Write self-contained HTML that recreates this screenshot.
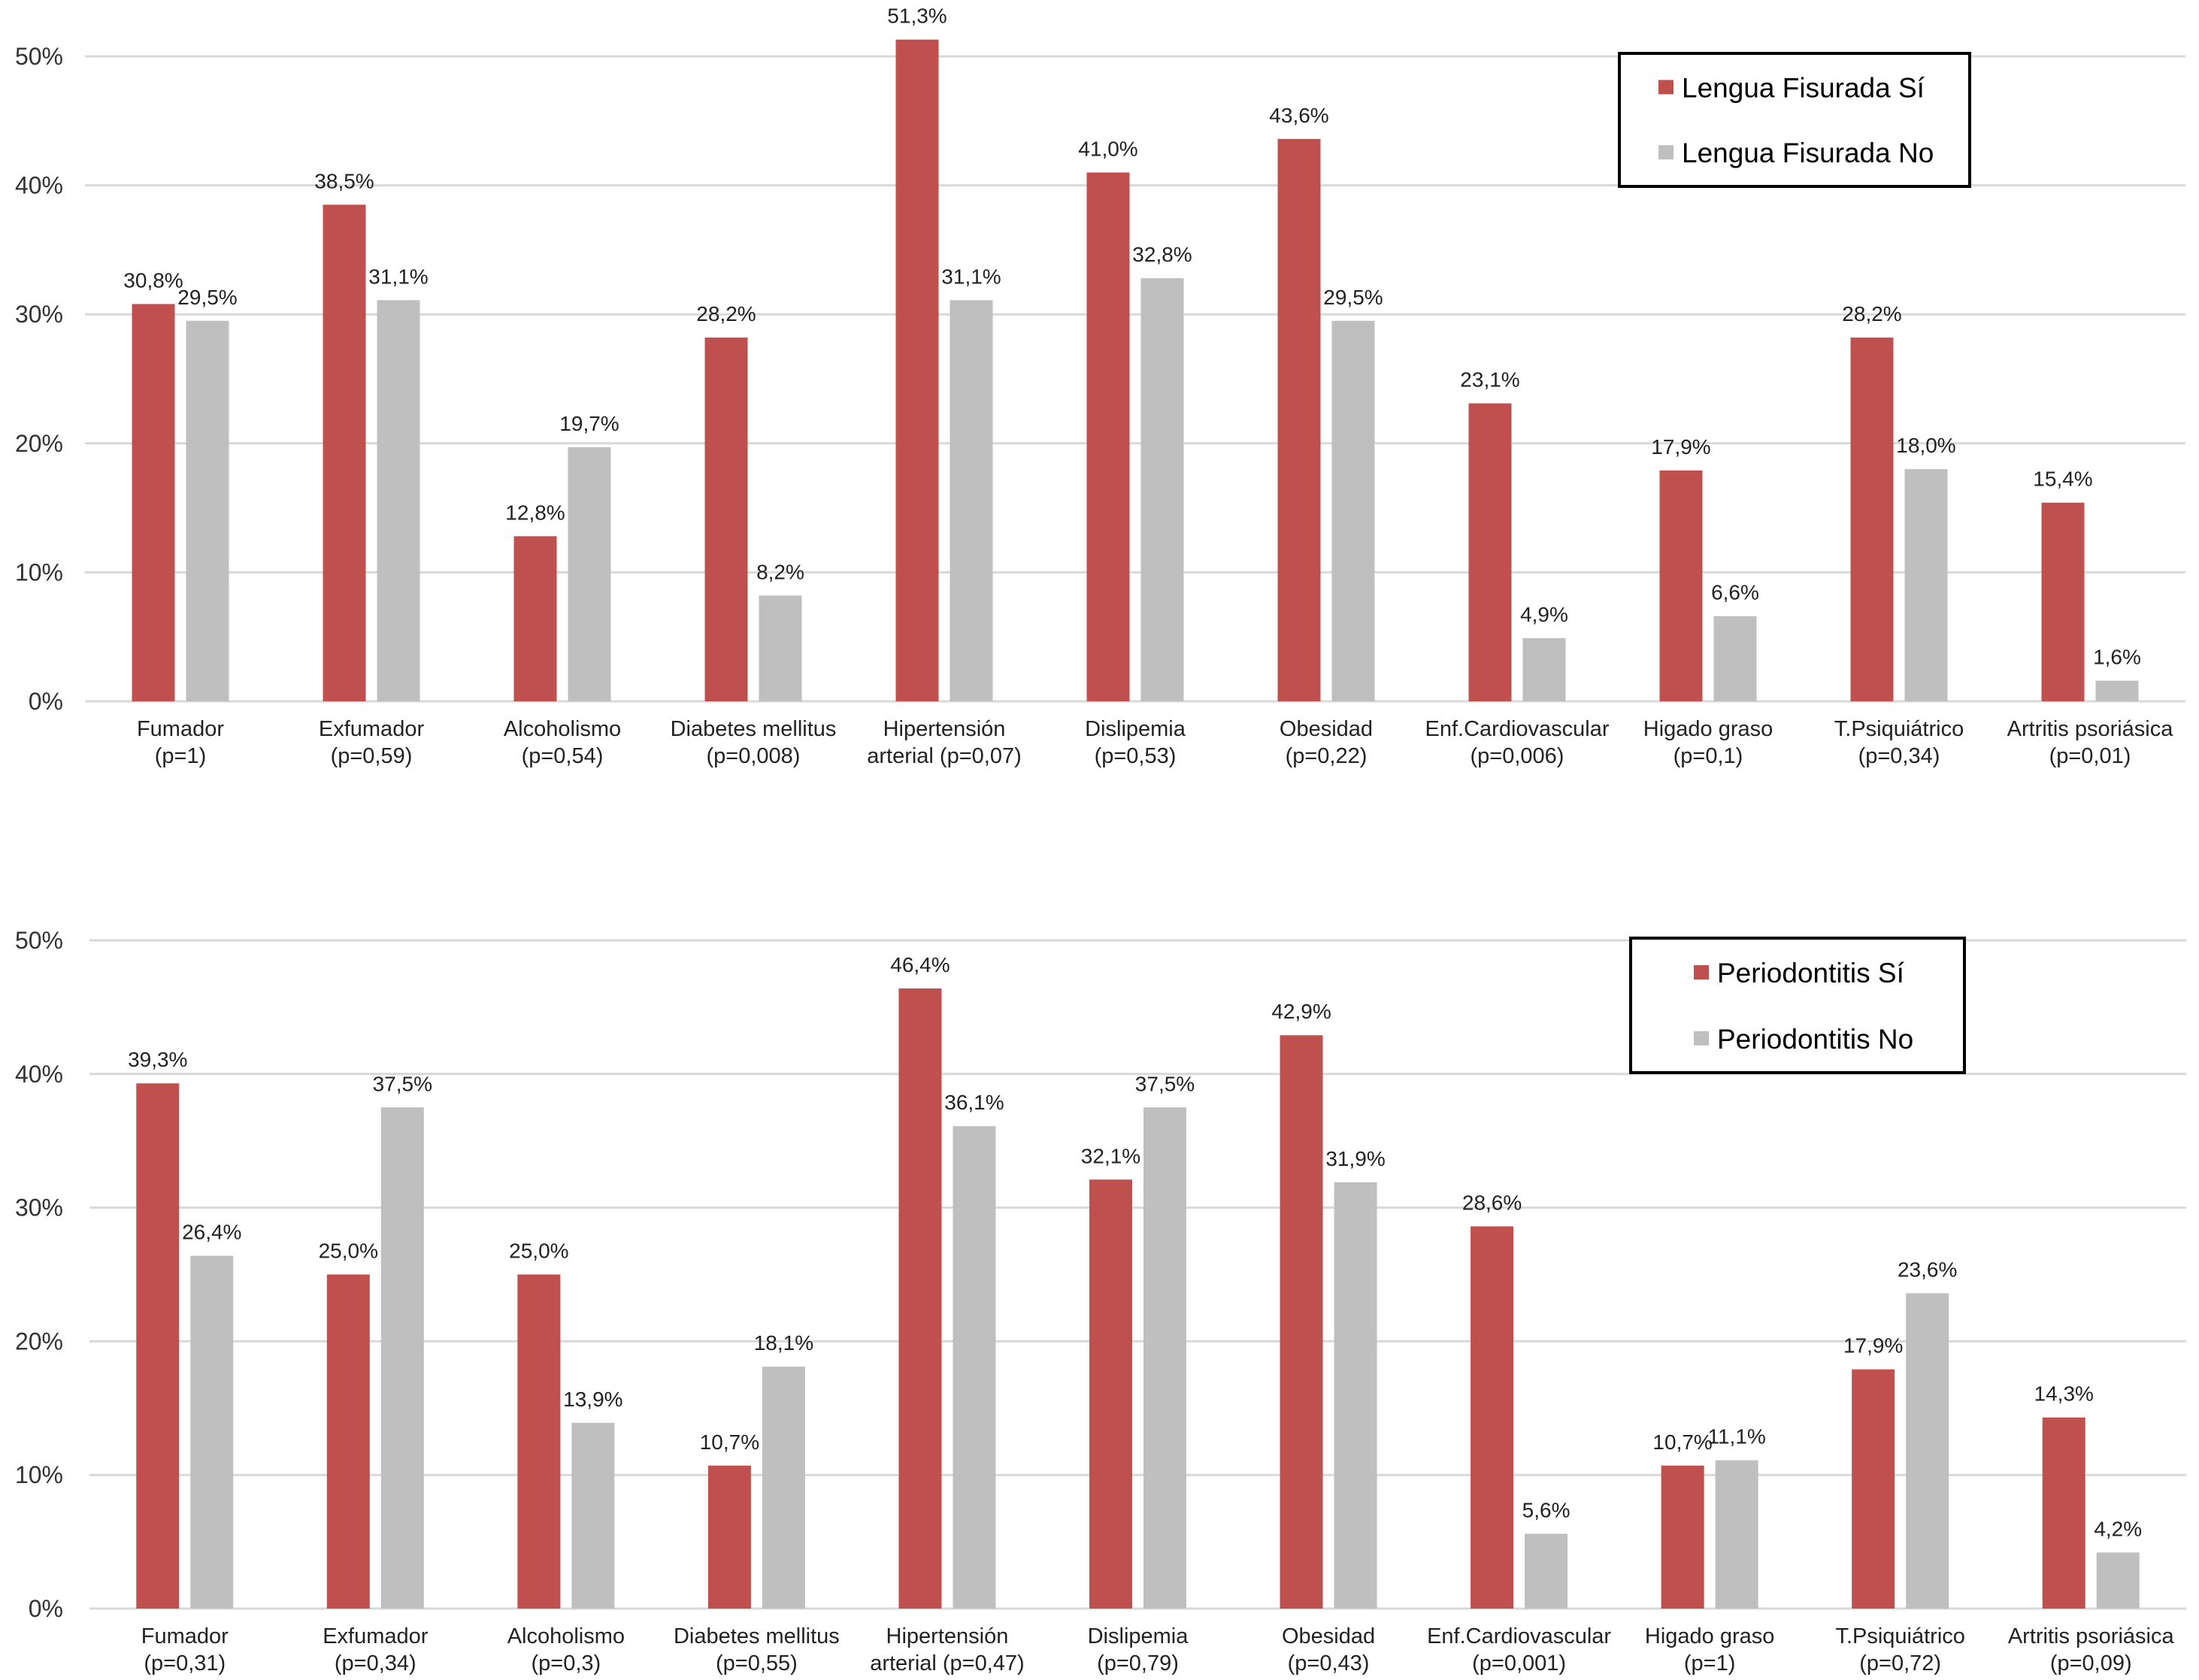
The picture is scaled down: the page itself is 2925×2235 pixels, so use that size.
<!DOCTYPE html>
<html><head><meta charset="utf-8"><style>
html,body{margin:0;padding:0;background:#fff;}
svg{display:block;font-family:"Liberation Sans",Arial,sans-serif;}
</style></head><body>
<svg id="chart" width="2925" height="2235" viewBox="0 0 2925 2235" xmlns="http://www.w3.org/2000/svg"></svg>
<script>
const categoriesTop = [["Fumador","(p=1)"],["Exfumador","(p=0,59)"],["Alcoholismo","(p=0,54)"],["Diabetes mellitus","(p=0,008)"],["Hipertensión","arterial (p=0,07)"],["Dislipemia","(p=0,53)"],["Obesidad","(p=0,22)"],["Enf.Cardiovascular","(p=0,006)"],["Higado graso","(p=0,1)"],["T.Psiquiátrico","(p=0,34)"],["Artritis psoriásica","(p=0,01)"]];
const lenguaSi = [30.8,38.5,12.8,28.2,51.3,41.0,43.6,23.1,17.9,28.2,15.4];
const lenguaNo = [29.5,31.1,19.7,8.2,31.1,32.8,29.5,4.9,6.6,18.0,1.6];
const categoriesBottom = [["Fumador","(p=0,31)"],["Exfumador","(p=0,34)"],["Alcoholismo","(p=0,3)"],["Diabetes mellitus","(p=0,55)"],["Hipertensión","arterial (p=0,47)"],["Dislipemia","(p=0,79)"],["Obesidad","(p=0,43)"],["Enf.Cardiovascular","(p=0,001)"],["Higado graso","(p=1)"],["T.Psiquiátrico","(p=0,72)"],["Artritis psoriásica","(p=0,09)"]];
const perioSi = [39.3,25.0,25.0,10.7,46.4,32.1,42.9,28.6,10.7,17.9,14.3];
const perioNo = [26.4,37.5,13.9,18.1,36.1,37.5,31.9,5.6,11.1,23.6,4.2];
const yTicks = [0,10,20,30,40,50];
const legendTop = ["Lengua Fisurada Sí","Lengua Fisurada No"];
const legendBottom = ["Periodontitis Sí","Periodontitis No"];

const NS="http://www.w3.org/2000/svg";
const svg=document.getElementById('chart');
function el(tag,attrs,parent){const e=document.createElementNS(NS,tag);for(const k in attrs)e.setAttribute(k,attrs[k]);(parent||svg).appendChild(e);return e;}
function fmt(v){return v.toFixed(1).replace('.',',')+'%';}

function drawChart(cfg){
  const g=el('g',{});
  
  
  const band=(cfg.x1-cfg.x0)/cfg.cats.length;
  const y=v=>cfg.y0-(v/50)*(cfg.y0-cfg.y50);
  const xc=i=>cfg.x0+band*(i+0.5);
  yTicks.forEach(t=>{
    const ln=el('line',{x1:cfg.x0,x2:cfg.x1,y1:y(t),y2:y(t),stroke:'#d9d9d9','stroke-width':3},g);
    
    
    const tx=el('text',{x:84,y:y(t)+11,'text-anchor':'end','font-size':32,fill:'#333'},g);
    tx.textContent=t+'%';
    
    
  });
  const bw=57,gap=15;
  const series=[[cfg.si,'#c0504d',-1],[cfg.no,'#bfbfbf',1]];
  series.forEach(([vals,col,side],si)=>{
    vals.forEach((v,i)=>{
      const bx=side<0?xc(i)-gap/2-bw:xc(i)+gap/2;
      const r=el('rect',{x:bx,y:y(v),width:bw,height:y(0)-y(v),fill:col},g);
      
      
      const t=el('text',{x:bx+bw/2,y:y(v)-22,'text-anchor':'middle','font-size':28,fill:'#222'},g);
      t.textContent=fmt(v);
      
      
    });
  });
  cfg.cats.forEach((c,i)=>{
    c.forEach((line,k)=>{
      const t=el('text',{x:xc(i),y:y(0)+46+k*36,'text-anchor':'middle','font-size':29,fill:'#222'},g);
      t.textContent=line;
      
      
    });
  });
  const L=cfg.legend;
  const lg=el('g',{},g);
  
  
  el('rect',{x:L.x,y:L.y,width:L.w,height:L.h,fill:'#fff',stroke:'#000','stroke-width':4},lg);
  cfg.legendNames.forEach((n,k)=>{
    const ry=L.y+L.h*(k===0?0.33:0.82);
    el('rect',{x:L.mx,y:ry-23,width:20,height:19,fill:k?'#bfbfbf':'#c0504d'},lg);
    const t=el('text',{x:L.mx+31,y:ry,'font-size':37,fill:'#000'},lg);
    t.textContent=n;
    
    
  });
}
drawChart({name:'lengua-fisurada-chart',cats:categoriesTop,si:lenguaSi,no:lenguaNo,x0:113,x1:2907,y0:933,y50:75,
  legend:{x:2154,y:71,w:466,h:177,mx:2206},legendNames:legendTop});
drawChart({name:'periodontitis-chart',cats:categoriesBottom,si:perioSi,no:perioNo,x0:119,x1:2908,y0:2140,y50:1251,
  legend:{x:2169,y:1248,w:444,h:179,mx:2253},legendNames:legendBottom});
</script>
</body></html>
